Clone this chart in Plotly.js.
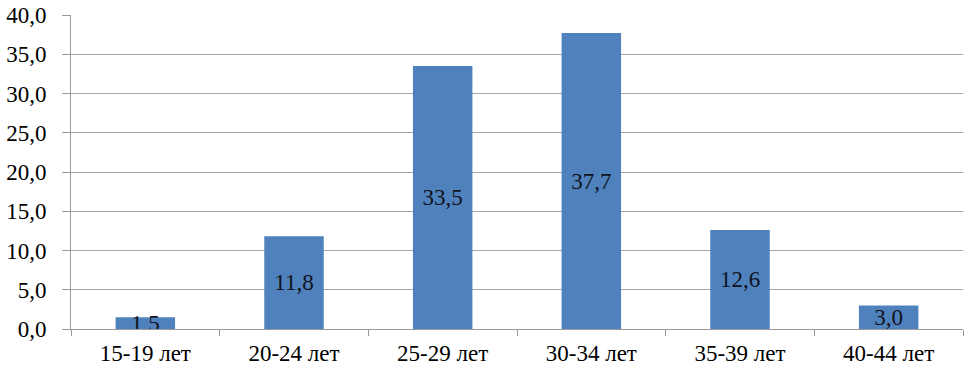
<!DOCTYPE html>
<html><head><meta charset="utf-8">
<script src="https://cdn.plot.ly/plotly-3.0.1.min.js"></script>
<style>html,body{margin:0;padding:0;background:#fff}#chart{width:972px;height:383px}</style>
</head><body><div id="chart"></div>
<script>
const categories = ['15-19 лет','20-24 лет','25-29 лет','30-34 лет','35-39 лет','40-44 лет'];
const values = [1.5, 11.8, 33.5, 37.7, 12.6, 3.0];
const yTicks = [0,5,10,15,20,25,30,35,40];

const font = {family: 'Liberation Serif', size: 23, color: '#000'};

Plotly.newPlot('chart', [{
  type: 'bar',
  x: categories,
  y: values,
  marker: {color: '#4F81BD'},
  texttemplate: '%{y:.1f}',
  textposition: 'inside',
  insidetextanchor: 'middle',
  textangle: 0,
  constraintext: 'none',
  insidetextfont: {family: 'Liberation Serif', size: 23, color: '#10131c'},
  hoverinfo: 'skip'
}], {
  width: 972, height: 383,
  margin: {l: 71, r: 9, t: 15, b: 54},
  separators: ', ',
  paper_bgcolor: '#fff', plot_bgcolor: '#fff',
  bargap: 0.6,
  showlegend: false,
  font: font,
  xaxis: {
    type: 'category',
    showgrid: false,
    showline: true, linecolor: '#9a9a9a', linewidth: 1,
    ticks: 'outside', tickson: 'boundaries', ticklen: 6, tickcolor: '#9a9a9a',
    tickfont: font,
    ticklabelstandoff: 3
  },
  yaxis: {
    range: [0, 40],
    tickvals: yTicks,
    tickformat: '.1f',
    showgrid: true, gridcolor: '#a6a6a6', gridwidth: 1,
    zeroline: false,
    showline: true, linecolor: '#9a9a9a', linewidth: 1,
    ticks: 'outside', ticklen: 8, tickcolor: '#9a9a9a',
    tickfont: font,
    ticklabelstandoff: 11
  }
}, {displayModeBar: false, staticPlot: true});
</script></body></html>
